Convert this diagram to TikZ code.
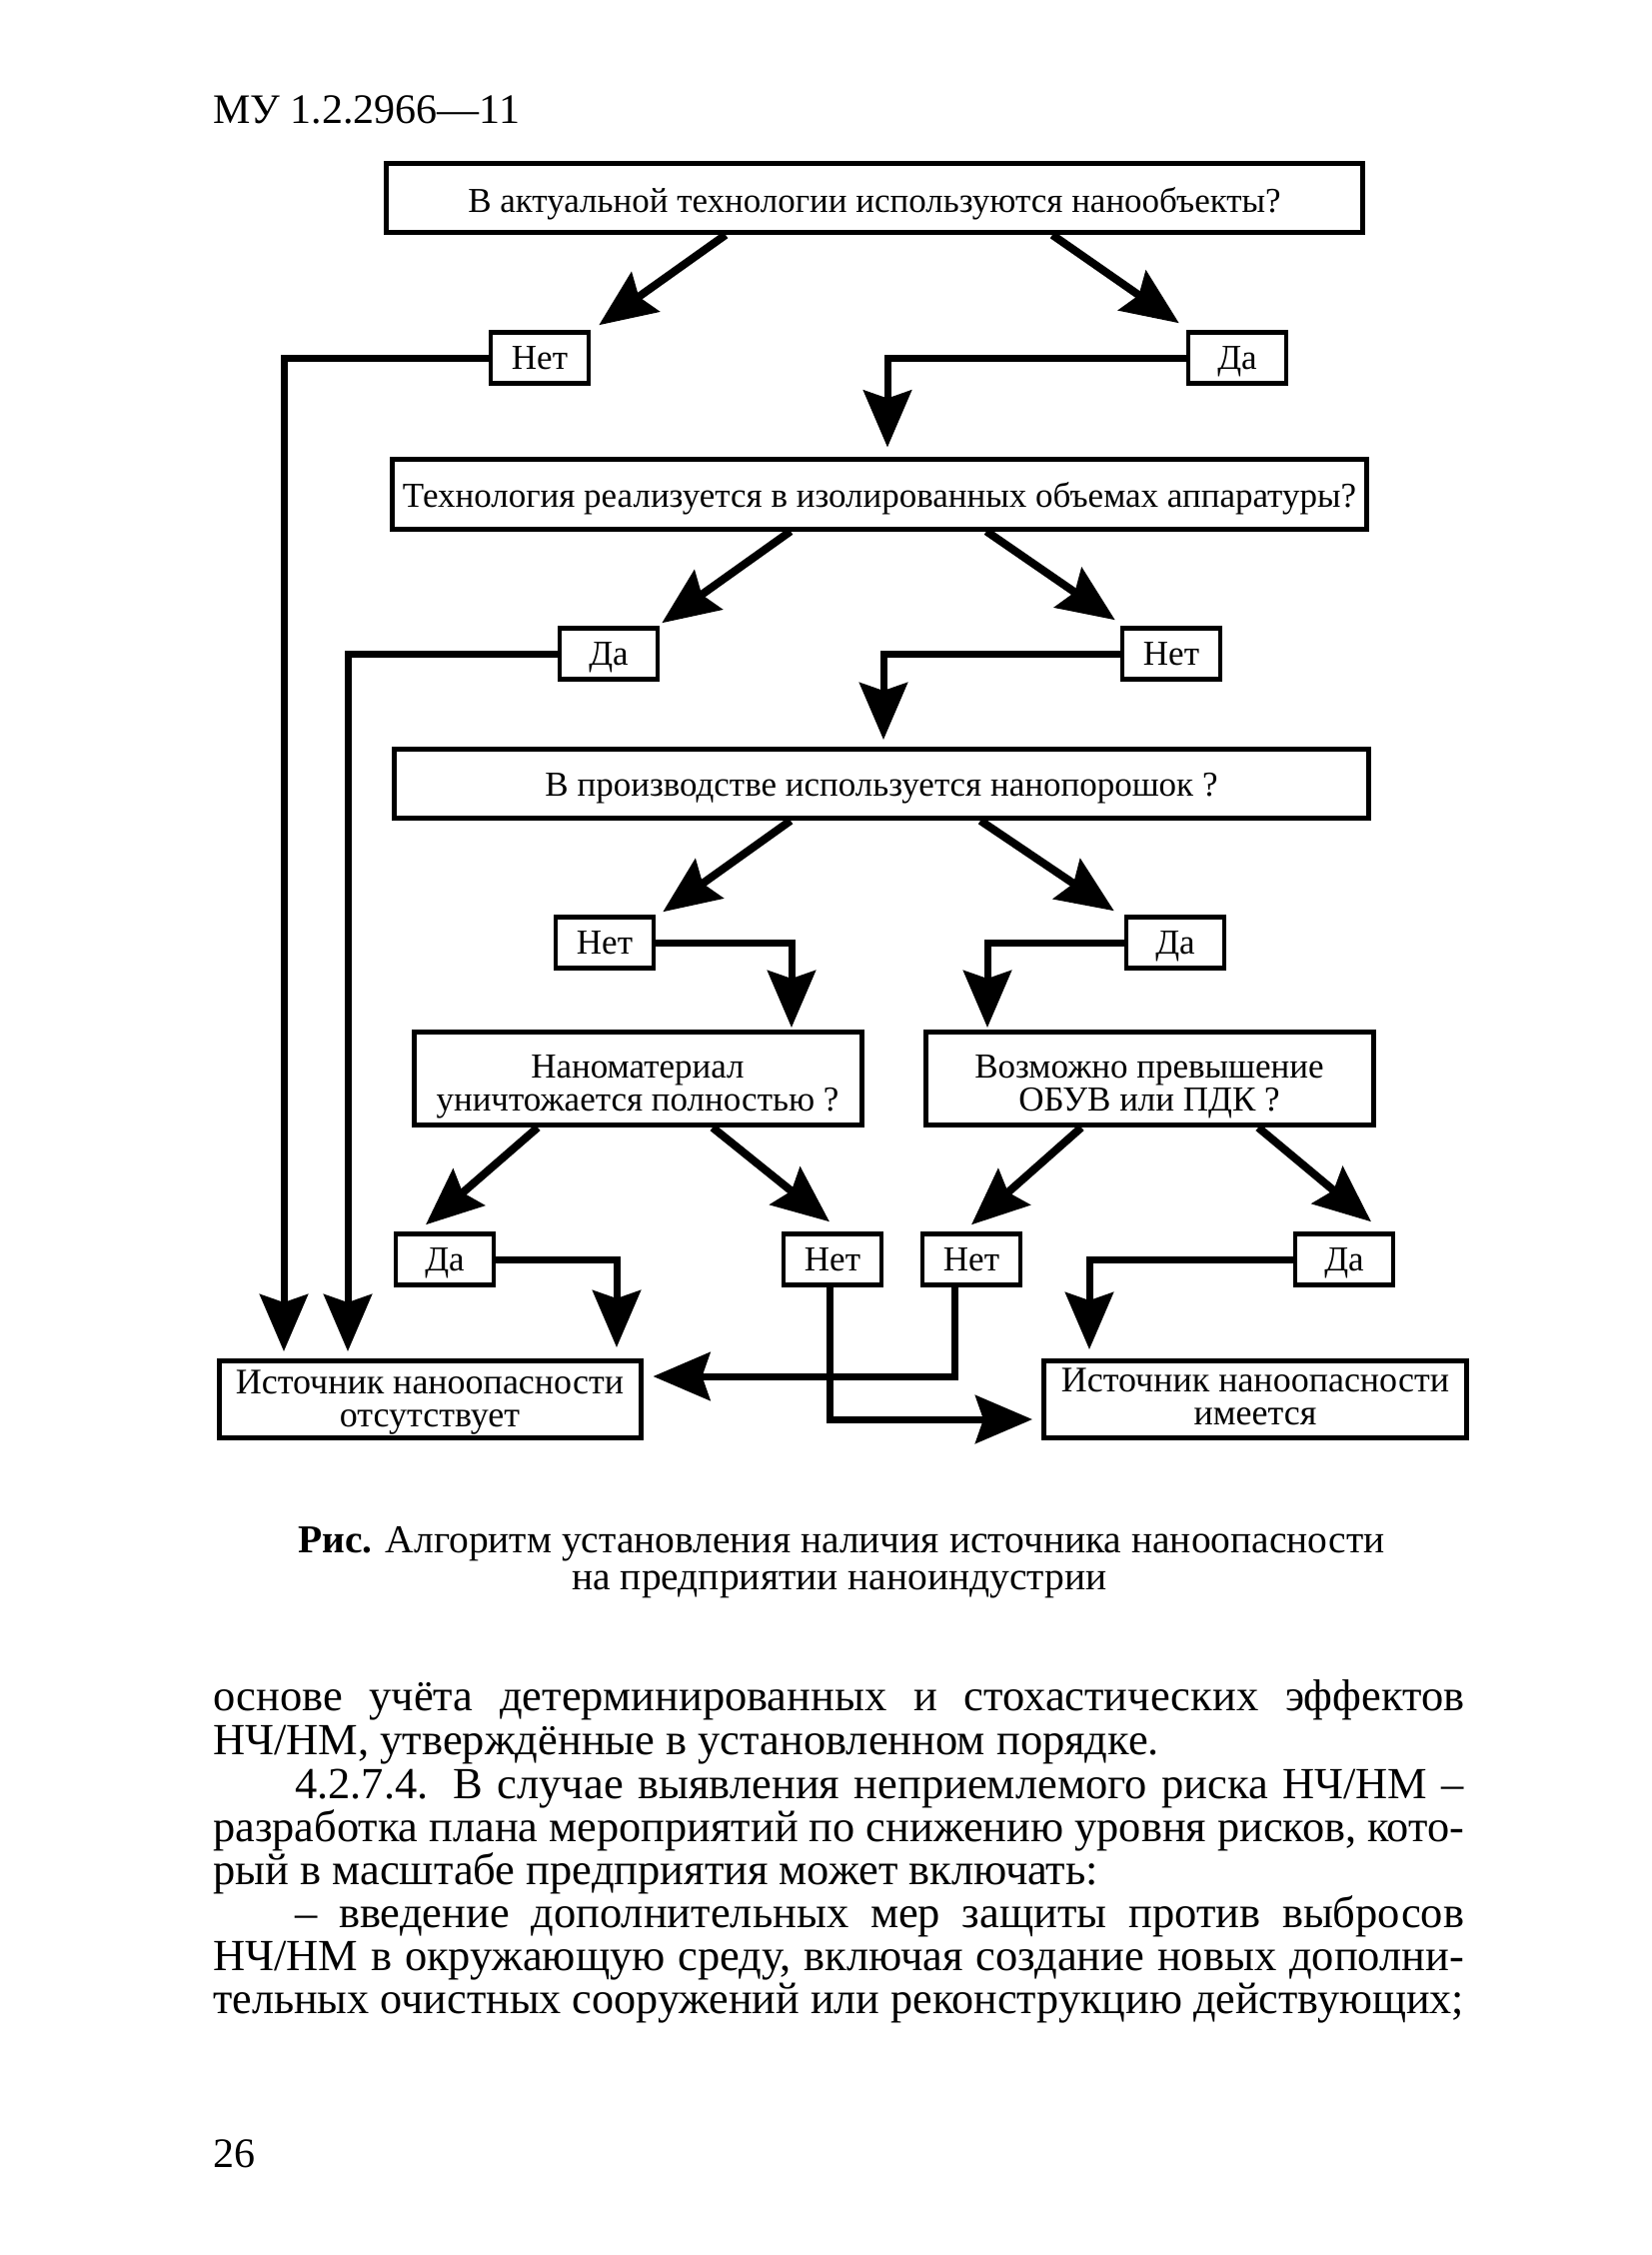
\documentclass[tikz,border=0pt]{standalone}
\usepackage{fontspec}
\usepackage{graphicx}
\setmainfont{Liberation Serif}
\usetikzlibrary{arrows.meta}
\newsavebox\fitbox
\newdimen\fitw
\newcommand\fitline[2]{\sbox\fitbox{#2}\fitw=\wd\fitbox\relax
  \ifdim\fitw>#1pt\relax\pgfmathsetmacro\fitsx{#1/\fitw}\scalebox{\fitsx}[1]{\usebox\fitbox}\else\makebox[#1pt][s]{#2}\fi}
\newcommand\lowr[2]{\vphantom{\begin{tabular}{@{}c@{}}#2\end{tabular}}\smash{\raisebox{-#1pt}{\begin{tabular}{@{}c@{}}#2\end{tabular}}}}
\newcommand\bxf{\fontsize{35}{33}\selectfont}
\newcommand\bxbf{\fontsize{36}{33}\selectfont}
\newcommand\bodyf{\fontsize{44.5}{44}\selectfont}
\newcommand\capf{\fontsize{39.5}{38}\selectfont}
\newcommand\hdrf{\fontsize{42}{42}\selectfont}
\tikzset{
  qbox/.style={draw, line width=5pt, inner sep=0pt, font=\bxf},
  ans/.style={draw, line width=4.5pt, minimum width=98pt, minimum height=51pt, inner sep=0pt, text height=23pt, text depth=0pt, font=\bxf},
  tipped/.style={-{Stealth[length=57pt, width=48pt, inset=8pt]}},
  conn/.style={line width=7pt, tipped},
  diag/.style={line width=8pt, tipped},
  txt/.style={inner sep=0pt, anchor=base west},
}
\begin{document}
\begin{tikzpicture}[x=1pt,y=-1pt]
\useasboundingbox[fill=white] (0,0) rectangle (1652,2256);
\node[txt, font=\hdrf] (hdr) at (213,124) {МУ 1.2.2966—11};

\node[qbox, minimum width=977pt, minimum height=69pt] (q1) at (875,198) {\lowr{7}{В актуальной технологии используются нанообъекты?}};
\node[ans] (n1) at (540,358) {Нет};
\node[ans] (d1) at (1238,358) {Да};
\node[qbox, minimum width=975pt, minimum height=70pt] (q2) at (880,494) {\lowr{6}{Технология реализуется в изолированных объемах аппаратуры?}};
\node[ans] (d2) at (609,654) {Да};
\node[ans] (n2) at (1172,654) {Нет};
\node[qbox, minimum width=975pt, minimum height=69pt] (q3) at (882,784) {\lowr{6}{В производстве используется нанопорошок ?}};
\node[ans] (n3) at (605,943) {Нет};
\node[ans] (d3) at (1176,943) {Да};
\node[qbox, minimum width=448pt, minimum height=93pt] (q4) at (638,1079) {\lowr{9}{Наноматериал\\уничтожается полностью ?}};
\node[qbox, minimum width=448pt, minimum height=93pt] (q5) at (1150,1079) {\lowr{9}{Возможно превышение\\ОБУВ или ПДК ?}};
\node[ans] (d4) at (445,1260) {Да};
\node[ans] (n4) at (833,1260) {Нет};
\node[ans] (n5) at (972,1260) {Нет};
\node[ans] (d5) at (1345,1260) {Да};
\node[qbox, font=\bxbf, minimum width=422pt, minimum height=77pt] (b6) at (430,1400) {\lowr{4}{Источник наноопасности\\отсутствует}};
\node[qbox, font=\bxbf, minimum width=423pt, minimum height=77pt] (b7) at (1256,1400) {\lowr{2}{Источник наноопасности\\имеется}};

\draw[diag] ([xshift=-149pt]q1.south) -- ([shift={(8pt,5pt)}]n1.north east);
\draw[diag] ([xshift=178pt]q1.south) -- ([shift={(-7pt,7pt)}]d1.north west);
\draw[conn, shorten >=7pt] (n1.west) -| ([xshift=-146pt]b6.north);
\draw[conn, shorten >=9pt] (d1.west) -| ([xshift=8pt]q2.north);

\draw[diag] ([xshift=-89pt]q2.south) -- ([shift={(2pt,3pt)}]d2.north east);
\draw[diag] ([xshift=107pt]q2.south) -- ([shift={(-5pt,6pt)}]n2.north west);
\draw[conn, shorten >=7pt] (d2.west) -| ([xshift=-82pt]b6.north);
\draw[conn, shorten >=7pt] (n2.west) -| ([xshift=2pt]q3.north);

\draw[diag] ([xshift=-91pt]q3.south) -- ([shift={(7pt,3pt)}]n3.north east);
\draw[diag] ([xshift=99pt]q3.south) -- ([shift={(-10pt,4pt)}]d3.north west);
\draw[conn, shorten >=2pt] (n3.east) -| ([xshift=154pt]q4.north);
\draw[conn, shorten >=2pt] (d3.west) -| ([xshift=-162pt]q5.north);

\draw[diag] ([xshift=-100pt]q4.south) -- ([shift={(-19pt,7pt)}]d4.north);
\draw[diag] ([xshift=75pt]q4.south) -- ([shift={(-3pt,10pt)}]n4.north);
\draw[diag] ([xshift=-68pt]q5.south) -- ([shift={(0pt,7pt)}]n5.north);
\draw[diag] ([xshift=109pt]q5.south) -- ([shift={(27pt,10pt)}]d5.north);

\draw[conn, shorten >=11pt] (d4.east) -| ([xshift=187pt]b6.north);
\draw[conn, shorten >=9pt] (d5.west) -| ([xshift=-166pt]b7.north);
\draw[conn, shorten >=9pt] ([xshift=-3pt]n4.south) |- ([yshift=-20pt]b7.west);
\draw[conn, shorten >=10pt] ([xshift=-17pt]n5.south) |- ([yshift=23pt]b6.east);

\node[inner sep=0pt, anchor=base, font=\capf] (cap1) at (842,1553) {\textbf{Рис.} Алгоритм установления наличия источника наноопасности};
\node[inner sep=0pt, anchor=base, font=\capf] (cap2) at (840,1590) {на предприятии наноиндустрии};

\node[txt, font=\bodyf] (t1) at (213,1711) {\fitline{1252}{основе учёта детерминированных и стохастических эффектов}};
\node[txt, font=\bodyf] (t2) at (213,1755) {НЧ/НМ, утверждённые в установленном порядке.};
\node[txt, font=\bodyf] (t3) at (295,1799) {\fitline{1170}{4.2.7.4. В случае выявления неприемлемого риска НЧ/НМ –}};
\node[txt, font=\bodyf] (t4) at (213,1842) {\fitline{1252}{разработка плана мероприятий по снижению уровня рисков, кото-}};
\node[txt, font=\bodyf] (t5) at (213,1885) {рый в масштабе предприятия может включать:};
\node[txt, font=\bodyf] (t6) at (295,1928) {\fitline{1170}{– введение дополнительных мер защиты против выбросов}};
\node[txt, font=\bodyf] (t7) at (213,1971) {\fitline{1252}{НЧ/НМ в окружающую среду, включая создание новых дополни-}};
\node[txt, font=\bodyf] (t8) at (213,2014) {\fitline{1252}{тельных очистных сооружений или реконструкцию действующих;}};

\node[txt, font=\hdrf] (pg) at (213,2168) {26};
\end{tikzpicture}
\end{document}
